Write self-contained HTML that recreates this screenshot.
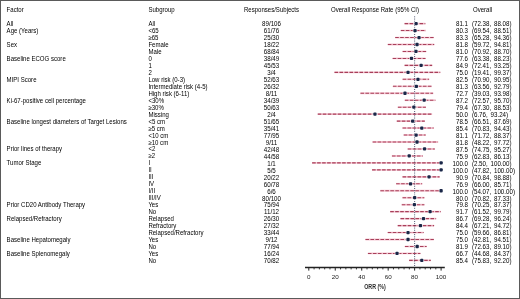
<!DOCTYPE html>
<html><head><meta charset="utf-8"><style>
*{margin:0;padding:0;box-sizing:border-box}
html,body{width:520px;height:299px;background:#fff;overflow:hidden}
#c{position:relative;width:520px;height:299px;background:#fff;font-family:"Liberation Sans",sans-serif;font-size:6.05px;color:#000;line-height:7px}
.t,.r,.m{transform:scaleY(1.08);transform-origin:50% 1.2px;letter-spacing:0px}
.n{font-size:6.2px;transform:scaleY(1.08);letter-spacing:0}
.t{position:absolute;white-space:nowrap}
#c{will-change:transform}
.r{position:absolute;white-space:nowrap;text-align:right}
.m{position:absolute;white-space:nowrap;text-align:center}
.b{position:absolute;background:#5a5a5a}
svg{position:absolute;left:0;top:0}
</style></head><body><div id="c">

<div class="b" style="left:0;top:0;width:520px;height:1px"></div>
<div class="b" style="left:0;top:0;width:1px;height:299px"></div>
<div class="b" style="right:0;top:0;width:1px;height:299px"></div>
<div class="b" style="left:0;bottom:0;width:520px;height:1px"></div>
<div class="t" style="left:6.6px;top:7.1px">Factor</div>
<div class="t" style="left:148.4px;top:7.1px">Subgroup</div>
<div class="m" style="left:231.5px;width:80px;top:7.1px">Responses/Subjects</div>
<div class="m" style="left:315px;width:120px;top:7.1px">Overall Response Rate (95% CI)</div>
<div class="m" style="left:452.6px;width:60px;top:7.1px">Overall</div>
<div class="t" style="left:6.6px;top:21px">All</div>
<div class="t" style="left:148.4px;top:21px">All</div>
<div class="m n" style="left:241.5px;width:60px;top:20px">89/106</div>
<div class="r n" style="left:428px;width:40px;top:20px">81.1</div>
<div class="t n" style="left:471.9px;top:20px;word-spacing:1.1px">(72.38, 88.08)</div>
<div class="t" style="left:6.6px;top:28px">Age (Years)</div>
<div class="t" style="left:148.4px;top:28px">&lt;65</div>
<div class="m n" style="left:241.5px;width:60px;top:27px">61/76</div>
<div class="r n" style="left:428px;width:40px;top:27px">80.3</div>
<div class="t n" style="left:471.9px;top:27px;word-spacing:1.1px">(69.54, 88.51)</div>
<div class="t" style="left:148.4px;top:35px">&ge;65</div>
<div class="m n" style="left:241.5px;width:60px;top:34px">25/30</div>
<div class="r n" style="left:428px;width:40px;top:34px">83.3</div>
<div class="t n" style="left:471.9px;top:34px;word-spacing:1.1px">(65.28, 94.36)</div>
<div class="t" style="left:6.6px;top:42px">Sex</div>
<div class="t" style="left:148.4px;top:42px">Female</div>
<div class="m n" style="left:241.5px;width:60px;top:41px">18/22</div>
<div class="r n" style="left:428px;width:40px;top:41px">81.8</div>
<div class="t n" style="left:471.9px;top:41px;word-spacing:1.1px">(59.72, 94.81)</div>
<div class="t" style="left:148.4px;top:49px">Male</div>
<div class="m n" style="left:241.5px;width:60px;top:48px">68/84</div>
<div class="r n" style="left:428px;width:40px;top:48px">81.0</div>
<div class="t n" style="left:471.9px;top:48px;word-spacing:1.1px">(70.92, 88.70)</div>
<div class="t" style="left:6.6px;top:56px">Baseline ECOG score</div>
<div class="t" style="left:148.4px;top:56px">0</div>
<div class="m n" style="left:241.5px;width:60px;top:55px">38/49</div>
<div class="r n" style="left:428px;width:40px;top:55px">77.6</div>
<div class="t n" style="left:471.9px;top:55px;word-spacing:1.1px">(63.38, 88.23)</div>
<div class="t" style="left:148.4px;top:63px">1</div>
<div class="m n" style="left:241.5px;width:60px;top:62px">45/53</div>
<div class="r n" style="left:428px;width:40px;top:62px">84.9</div>
<div class="t n" style="left:471.9px;top:62px;word-spacing:1.1px">(72.41, 93.25)</div>
<div class="t" style="left:148.4px;top:70px">2</div>
<div class="m n" style="left:241.5px;width:60px;top:69px">3/4</div>
<div class="r n" style="left:428px;width:40px;top:69px">75.0</div>
<div class="t n" style="left:471.9px;top:69px;word-spacing:1.1px">(19.41, 99.37)</div>
<div class="t" style="left:6.6px;top:77px">MIPI Score</div>
<div class="t" style="left:148.4px;top:77px">Low risk (0-3)</div>
<div class="m n" style="left:241.5px;width:60px;top:76px">52/63</div>
<div class="r n" style="left:428px;width:40px;top:76px">82.5</div>
<div class="t n" style="left:471.9px;top:76px;word-spacing:1.1px">(70.90, 90.95)</div>
<div class="t" style="left:148.4px;top:84px">Intermediate risk (4-5)</div>
<div class="m n" style="left:241.5px;width:60px;top:83px">26/32</div>
<div class="r n" style="left:428px;width:40px;top:83px">81.3</div>
<div class="t n" style="left:471.9px;top:83px;word-spacing:1.1px">(63.56, 92.79)</div>
<div class="t" style="left:148.4px;top:91px">High risk (6-11)</div>
<div class="m n" style="left:241.5px;width:60px;top:90px">8/11</div>
<div class="r n" style="left:428px;width:40px;top:90px">72.7</div>
<div class="t n" style="left:471.9px;top:90px;word-spacing:1.1px">(39.03, 93.98)</div>
<div class="t" style="left:6.6px;top:98px">Ki-67-positive cell percentage</div>
<div class="t" style="left:148.4px;top:98px">&lt;30%</div>
<div class="m n" style="left:241.5px;width:60px;top:97px">34/39</div>
<div class="r n" style="left:428px;width:40px;top:97px">87.2</div>
<div class="t n" style="left:471.9px;top:97px;word-spacing:1.1px">(72.57, 95.70)</div>
<div class="t" style="left:148.4px;top:105px">&ge;30%</div>
<div class="m n" style="left:241.5px;width:60px;top:104px">50/63</div>
<div class="r n" style="left:428px;width:40px;top:104px">79.4</div>
<div class="t n" style="left:471.9px;top:104px;word-spacing:1.1px">(67.30, 88.53)</div>
<div class="t" style="left:148.4px;top:112px">Missing</div>
<div class="m n" style="left:241.5px;width:60px;top:111px">2/4</div>
<div class="r n" style="left:428px;width:40px;top:111px">50.0</div>
<div class="t n" style="left:471.9px;top:111px;word-spacing:1.1px">(6.76, 93.24)</div>
<div class="t" style="left:6.6px;top:119px">Baseline longest diameters of Target Lesions</div>
<div class="t" style="left:148.4px;top:119px">&lt;5 cm</div>
<div class="m n" style="left:241.5px;width:60px;top:118px">51/65</div>
<div class="r n" style="left:428px;width:40px;top:118px">78.5</div>
<div class="t n" style="left:471.9px;top:118px;word-spacing:1.1px">(66.51, 87.69)</div>
<div class="t" style="left:148.4px;top:126px">&ge;5 cm</div>
<div class="m n" style="left:241.5px;width:60px;top:125px">35/41</div>
<div class="r n" style="left:428px;width:40px;top:125px">85.4</div>
<div class="t n" style="left:471.9px;top:125px;word-spacing:1.1px">(70.83, 94.43)</div>
<div class="t" style="left:148.4px;top:133px">&lt;10 cm</div>
<div class="m n" style="left:241.5px;width:60px;top:132px">77/95</div>
<div class="r n" style="left:428px;width:40px;top:132px">81.1</div>
<div class="t n" style="left:471.9px;top:132px;word-spacing:1.1px">(71.72, 88.37)</div>
<div class="t" style="left:148.4px;top:140px">&ge;10 cm</div>
<div class="m n" style="left:241.5px;width:60px;top:139px">9/11</div>
<div class="r n" style="left:428px;width:40px;top:139px">81.8</div>
<div class="t n" style="left:471.9px;top:139px;word-spacing:1.1px">(48.22, 97.72)</div>
<div class="t" style="left:6.6px;top:146px">Prior lines of therapy</div>
<div class="t" style="left:148.4px;top:146px">&lt;2</div>
<div class="m n" style="left:241.5px;width:60px;top:146px">42/48</div>
<div class="r n" style="left:428px;width:40px;top:146px">87.5</div>
<div class="t n" style="left:471.9px;top:146px;word-spacing:1.1px">(74.75, 95.27)</div>
<div class="t" style="left:148.4px;top:153px">&ge;2</div>
<div class="m n" style="left:241.5px;width:60px;top:153px">44/58</div>
<div class="r n" style="left:428px;width:40px;top:153px">75.9</div>
<div class="t n" style="left:471.9px;top:153px;word-spacing:1.1px">(62.83, 86.13)</div>
<div class="t" style="left:6.6px;top:160px">Tumor Stage</div>
<div class="t" style="left:148.4px;top:160px">I</div>
<div class="m n" style="left:241.5px;width:60px;top:160px">1/1</div>
<div class="r n" style="left:428px;width:40px;top:160px">100.0</div>
<div class="t n" style="left:471.9px;top:160px;word-spacing:1.1px">(2.50, 100.00)</div>
<div class="t" style="left:148.4px;top:167px">II</div>
<div class="m n" style="left:241.5px;width:60px;top:167px">5/5</div>
<div class="r n" style="left:428px;width:40px;top:167px">100.0</div>
<div class="t n" style="left:471.9px;top:167px;word-spacing:1.1px">(47.82, 100.00)</div>
<div class="t" style="left:148.4px;top:174px">III</div>
<div class="m n" style="left:241.5px;width:60px;top:174px">20/22</div>
<div class="r n" style="left:428px;width:40px;top:174px">90.9</div>
<div class="t n" style="left:471.9px;top:174px;word-spacing:1.1px">(70.84, 98.88)</div>
<div class="t" style="left:148.4px;top:181px">IV</div>
<div class="m n" style="left:241.5px;width:60px;top:181px">60/78</div>
<div class="r n" style="left:428px;width:40px;top:181px">76.9</div>
<div class="t n" style="left:471.9px;top:181px;word-spacing:1.1px">(66.00, 85.71)</div>
<div class="t" style="left:148.4px;top:188px">I/II</div>
<div class="m n" style="left:241.5px;width:60px;top:188px">6/6</div>
<div class="r n" style="left:428px;width:40px;top:188px">100.0</div>
<div class="t n" style="left:471.9px;top:188px;word-spacing:1.1px">(54.07, 100.00)</div>
<div class="t" style="left:148.4px;top:195px">III/IV</div>
<div class="m n" style="left:241.5px;width:60px;top:195px">80/100</div>
<div class="r n" style="left:428px;width:40px;top:195px">80.0</div>
<div class="t n" style="left:471.9px;top:195px;word-spacing:1.1px">(70.82, 87.33)</div>
<div class="t" style="left:6.6px;top:202px">Prior CD20 Antibody Therapy</div>
<div class="t" style="left:148.4px;top:202px">Yes</div>
<div class="m n" style="left:241.5px;width:60px;top:201px">75/94</div>
<div class="r n" style="left:428px;width:40px;top:201px">79.8</div>
<div class="t n" style="left:471.9px;top:201px;word-spacing:1.1px">(70.25, 87.37)</div>
<div class="t" style="left:148.4px;top:209px">No</div>
<div class="m n" style="left:241.5px;width:60px;top:208px">11/12</div>
<div class="r n" style="left:428px;width:40px;top:208px">91.7</div>
<div class="t n" style="left:471.9px;top:208px;word-spacing:1.1px">(61.52, 99.79)</div>
<div class="t" style="left:6.6px;top:216px">Relapsed/Refractory</div>
<div class="t" style="left:148.4px;top:216px">Relapsed</div>
<div class="m n" style="left:241.5px;width:60px;top:215px">26/30</div>
<div class="r n" style="left:428px;width:40px;top:215px">86.7</div>
<div class="t n" style="left:471.9px;top:215px;word-spacing:1.1px">(69.28, 96.24)</div>
<div class="t" style="left:148.4px;top:223px">Refractory</div>
<div class="m n" style="left:241.5px;width:60px;top:222px">27/32</div>
<div class="r n" style="left:428px;width:40px;top:222px">84.4</div>
<div class="t n" style="left:471.9px;top:222px;word-spacing:1.1px">(67.21, 94.72)</div>
<div class="t" style="left:148.4px;top:230px">Relapsed/Refractory</div>
<div class="m n" style="left:241.5px;width:60px;top:229px">33/44</div>
<div class="r n" style="left:428px;width:40px;top:229px">75.0</div>
<div class="t n" style="left:471.9px;top:229px;word-spacing:1.1px">(59.66, 86.81)</div>
<div class="t" style="left:6.6px;top:237px">Baseline Hepatomegaly</div>
<div class="t" style="left:148.4px;top:237px">Yes</div>
<div class="m n" style="left:241.5px;width:60px;top:236px">9/12</div>
<div class="r n" style="left:428px;width:40px;top:236px">75.0</div>
<div class="t n" style="left:471.9px;top:236px;word-spacing:1.1px">(42.81, 94.51)</div>
<div class="t" style="left:148.4px;top:244px">No</div>
<div class="m n" style="left:241.5px;width:60px;top:243px">77/94</div>
<div class="r n" style="left:428px;width:40px;top:243px">81.9</div>
<div class="t n" style="left:471.9px;top:243px;word-spacing:1.1px">(72.63, 89.10)</div>
<div class="t" style="left:6.6px;top:251px">Baseline Splenomegaly</div>
<div class="t" style="left:148.4px;top:251px">Yes</div>
<div class="m n" style="left:241.5px;width:60px;top:250px">16/24</div>
<div class="r n" style="left:428px;width:40px;top:250px">66.7</div>
<div class="t n" style="left:471.9px;top:250px;word-spacing:1.1px">(44.68, 84.37)</div>
<div class="t" style="left:148.4px;top:258px">No</div>
<div class="m n" style="left:241.5px;width:60px;top:257px">70/82</div>
<div class="r n" style="left:428px;width:40px;top:257px">85.4</div>
<div class="t n" style="left:471.9px;top:257px;word-spacing:1.1px">(75.83, 92.20)</div>
<svg width="520" height="299" viewBox="0 0 520 299"><line x1="404.56" x2="425.33" y1="23.60" y2="23.60" stroke="#f5c8d3" stroke-width="1.8" stroke-dasharray="none"/><line x1="404.56" x2="425.33" y1="23.60" y2="23.60" stroke="#a83f5a" stroke-width="1.1" stroke-dasharray="3.6 1.4"/><line x1="400.80" x2="425.90" y1="30.57" y2="30.57" stroke="#f5c8d3" stroke-width="1.8" stroke-dasharray="none"/><line x1="400.80" x2="425.90" y1="30.57" y2="30.57" stroke="#a83f5a" stroke-width="1.1" stroke-dasharray="3.6 1.4"/><line x1="395.17" x2="433.64" y1="37.53" y2="37.53" stroke="#f5c8d3" stroke-width="1.8" stroke-dasharray="none"/><line x1="395.17" x2="433.64" y1="37.53" y2="37.53" stroke="#a83f5a" stroke-width="1.1" stroke-dasharray="3.6 1.4"/><line x1="387.81" x2="434.23" y1="44.50" y2="44.50" stroke="#f5c8d3" stroke-width="1.8" stroke-dasharray="none"/><line x1="387.81" x2="434.23" y1="44.50" y2="44.50" stroke="#a83f5a" stroke-width="1.1" stroke-dasharray="3.6 1.4"/><line x1="402.63" x2="426.15" y1="51.46" y2="51.46" stroke="#f5c8d3" stroke-width="1.8" stroke-dasharray="none"/><line x1="402.63" x2="426.15" y1="51.46" y2="51.46" stroke="#a83f5a" stroke-width="1.1" stroke-dasharray="3.6 1.4"/><line x1="392.65" x2="425.53" y1="58.43" y2="58.43" stroke="#f5c8d3" stroke-width="1.8" stroke-dasharray="none"/><line x1="392.65" x2="425.53" y1="58.43" y2="58.43" stroke="#a83f5a" stroke-width="1.1" stroke-dasharray="3.6 1.4"/><line x1="404.60" x2="432.17" y1="65.39" y2="65.39" stroke="#f5c8d3" stroke-width="1.8" stroke-dasharray="none"/><line x1="404.60" x2="432.17" y1="65.39" y2="65.39" stroke="#a83f5a" stroke-width="1.1" stroke-dasharray="3.6 1.4"/><line x1="334.48" x2="440.27" y1="72.35" y2="72.35" stroke="#f5c8d3" stroke-width="1.8" stroke-dasharray="none"/><line x1="334.48" x2="440.27" y1="72.35" y2="72.35" stroke="#a83f5a" stroke-width="1.1" stroke-dasharray="3.6 1.4"/><line x1="402.60" x2="429.13" y1="79.32" y2="79.32" stroke="#f5c8d3" stroke-width="1.8" stroke-dasharray="none"/><line x1="402.60" x2="429.13" y1="79.32" y2="79.32" stroke="#a83f5a" stroke-width="1.1" stroke-dasharray="3.6 1.4"/><line x1="392.89" x2="431.56" y1="86.28" y2="86.28" stroke="#f5c8d3" stroke-width="1.8" stroke-dasharray="none"/><line x1="392.89" x2="431.56" y1="86.28" y2="86.28" stroke="#a83f5a" stroke-width="1.1" stroke-dasharray="3.6 1.4"/><line x1="360.44" x2="433.14" y1="93.25" y2="93.25" stroke="#f5c8d3" stroke-width="1.8" stroke-dasharray="none"/><line x1="360.44" x2="433.14" y1="93.25" y2="93.25" stroke="#a83f5a" stroke-width="1.1" stroke-dasharray="3.6 1.4"/><line x1="404.81" x2="435.41" y1="100.22" y2="100.22" stroke="#f5c8d3" stroke-width="1.8" stroke-dasharray="none"/><line x1="404.81" x2="435.41" y1="100.22" y2="100.22" stroke="#a83f5a" stroke-width="1.1" stroke-dasharray="3.6 1.4"/><line x1="397.84" x2="425.93" y1="107.18" y2="107.18" stroke="#f5c8d3" stroke-width="1.8" stroke-dasharray="none"/><line x1="397.84" x2="425.93" y1="107.18" y2="107.18" stroke="#a83f5a" stroke-width="1.1" stroke-dasharray="3.6 1.4"/><line x1="317.74" x2="432.16" y1="114.15" y2="114.15" stroke="#f5c8d3" stroke-width="1.8" stroke-dasharray="none"/><line x1="317.74" x2="432.16" y1="114.15" y2="114.15" stroke="#a83f5a" stroke-width="1.1" stroke-dasharray="3.6 1.4"/><line x1="396.79" x2="424.81" y1="121.11" y2="121.11" stroke="#f5c8d3" stroke-width="1.8" stroke-dasharray="none"/><line x1="396.79" x2="424.81" y1="121.11" y2="121.11" stroke="#a83f5a" stroke-width="1.1" stroke-dasharray="3.6 1.4"/><line x1="402.51" x2="433.73" y1="128.07" y2="128.07" stroke="#f5c8d3" stroke-width="1.8" stroke-dasharray="none"/><line x1="402.51" x2="433.73" y1="128.07" y2="128.07" stroke="#a83f5a" stroke-width="1.1" stroke-dasharray="3.6 1.4"/><line x1="403.69" x2="425.71" y1="135.04" y2="135.04" stroke="#f5c8d3" stroke-width="1.8" stroke-dasharray="none"/><line x1="403.69" x2="425.71" y1="135.04" y2="135.04" stroke="#a83f5a" stroke-width="1.1" stroke-dasharray="3.6 1.4"/><line x1="372.60" x2="438.08" y1="142.00" y2="142.00" stroke="#f5c8d3" stroke-width="1.8" stroke-dasharray="none"/><line x1="372.60" x2="438.08" y1="142.00" y2="142.00" stroke="#a83f5a" stroke-width="1.1" stroke-dasharray="3.6 1.4"/><line x1="407.69" x2="434.84" y1="148.97" y2="148.97" stroke="#f5c8d3" stroke-width="1.8" stroke-dasharray="none"/><line x1="407.69" x2="434.84" y1="148.97" y2="148.97" stroke="#a83f5a" stroke-width="1.1" stroke-dasharray="3.6 1.4"/><line x1="391.92" x2="422.75" y1="155.94" y2="155.94" stroke="#f5c8d3" stroke-width="1.8" stroke-dasharray="none"/><line x1="391.92" x2="422.75" y1="155.94" y2="155.94" stroke="#a83f5a" stroke-width="1.1" stroke-dasharray="3.6 1.4"/><line x1="312.11" x2="441.10" y1="162.90" y2="162.90" stroke="#f5c8d3" stroke-width="1.8" stroke-dasharray="none"/><line x1="312.11" x2="441.10" y1="162.90" y2="162.90" stroke="#a83f5a" stroke-width="1.1" stroke-dasharray="3.6 1.4"/><line x1="372.07" x2="441.10" y1="169.86" y2="169.86" stroke="#f5c8d3" stroke-width="1.8" stroke-dasharray="none"/><line x1="372.07" x2="441.10" y1="169.86" y2="169.86" stroke="#a83f5a" stroke-width="1.1" stroke-dasharray="3.6 1.4"/><line x1="402.52" x2="439.62" y1="176.83" y2="176.83" stroke="#f5c8d3" stroke-width="1.8" stroke-dasharray="none"/><line x1="402.52" x2="439.62" y1="176.83" y2="176.83" stroke="#a83f5a" stroke-width="1.1" stroke-dasharray="3.6 1.4"/><line x1="396.12" x2="422.19" y1="183.79" y2="183.79" stroke="#f5c8d3" stroke-width="1.8" stroke-dasharray="none"/><line x1="396.12" x2="422.19" y1="183.79" y2="183.79" stroke="#a83f5a" stroke-width="1.1" stroke-dasharray="3.6 1.4"/><line x1="380.33" x2="441.10" y1="190.76" y2="190.76" stroke="#f5c8d3" stroke-width="1.8" stroke-dasharray="none"/><line x1="380.33" x2="441.10" y1="190.76" y2="190.76" stroke="#a83f5a" stroke-width="1.1" stroke-dasharray="3.6 1.4"/><line x1="402.49" x2="424.34" y1="197.72" y2="197.72" stroke="#f5c8d3" stroke-width="1.8" stroke-dasharray="none"/><line x1="402.49" x2="424.34" y1="197.72" y2="197.72" stroke="#a83f5a" stroke-width="1.1" stroke-dasharray="3.6 1.4"/><line x1="401.74" x2="424.39" y1="204.69" y2="204.69" stroke="#f5c8d3" stroke-width="1.8" stroke-dasharray="none"/><line x1="401.74" x2="424.39" y1="204.69" y2="204.69" stroke="#a83f5a" stroke-width="1.1" stroke-dasharray="3.6 1.4"/><line x1="390.19" x2="440.82" y1="211.66" y2="211.66" stroke="#f5c8d3" stroke-width="1.8" stroke-dasharray="none"/><line x1="390.19" x2="440.82" y1="211.66" y2="211.66" stroke="#a83f5a" stroke-width="1.1" stroke-dasharray="3.6 1.4"/><line x1="400.46" x2="436.13" y1="218.62" y2="218.62" stroke="#f5c8d3" stroke-width="1.8" stroke-dasharray="none"/><line x1="400.46" x2="436.13" y1="218.62" y2="218.62" stroke="#a83f5a" stroke-width="1.1" stroke-dasharray="3.6 1.4"/><line x1="397.72" x2="434.11" y1="225.58" y2="225.58" stroke="#f5c8d3" stroke-width="1.8" stroke-dasharray="none"/><line x1="397.72" x2="434.11" y1="225.58" y2="225.58" stroke="#a83f5a" stroke-width="1.1" stroke-dasharray="3.6 1.4"/><line x1="387.73" x2="423.65" y1="232.55" y2="232.55" stroke="#f5c8d3" stroke-width="1.8" stroke-dasharray="none"/><line x1="387.73" x2="423.65" y1="232.55" y2="232.55" stroke="#a83f5a" stroke-width="1.1" stroke-dasharray="3.6 1.4"/><line x1="365.44" x2="433.84" y1="239.51" y2="239.51" stroke="#f5c8d3" stroke-width="1.8" stroke-dasharray="none"/><line x1="365.44" x2="433.84" y1="239.51" y2="239.51" stroke="#a83f5a" stroke-width="1.1" stroke-dasharray="3.6 1.4"/><line x1="404.89" x2="426.68" y1="246.48" y2="246.48" stroke="#f5c8d3" stroke-width="1.8" stroke-dasharray="none"/><line x1="404.89" x2="426.68" y1="246.48" y2="246.48" stroke="#a83f5a" stroke-width="1.1" stroke-dasharray="3.6 1.4"/><line x1="367.91" x2="420.42" y1="253.44" y2="253.44" stroke="#f5c8d3" stroke-width="1.8" stroke-dasharray="none"/><line x1="367.91" x2="420.42" y1="253.44" y2="253.44" stroke="#a83f5a" stroke-width="1.1" stroke-dasharray="3.6 1.4"/><line x1="409.12" x2="430.78" y1="260.41" y2="260.41" stroke="#f5c8d3" stroke-width="1.8" stroke-dasharray="none"/><line x1="409.12" x2="430.78" y1="260.41" y2="260.41" stroke="#a83f5a" stroke-width="1.1" stroke-dasharray="3.6 1.4"/><line x1="414.64" x2="414.64" y1="16.4" y2="267.5" stroke="#2a3050" stroke-width="0.9" stroke-dasharray="0.9 1.3"/><circle cx="416.10" cy="23.60" r="2.4" fill="#fff" fill-opacity="0.8"/><rect x="414.45" y="21.95" width="3.3" height="3.3" rx="1.0" fill="#1a2748"/><circle cx="415.04" cy="30.57" r="2.4" fill="#fff" fill-opacity="0.8"/><rect x="413.39" y="28.92" width="3.3" height="3.3" rx="1.0" fill="#1a2748"/><circle cx="419.01" cy="37.53" r="2.4" fill="#fff" fill-opacity="0.8"/><rect x="417.36" y="35.88" width="3.3" height="3.3" rx="1.0" fill="#1a2748"/><circle cx="417.02" cy="44.50" r="2.4" fill="#fff" fill-opacity="0.8"/><rect x="415.37" y="42.85" width="3.3" height="3.3" rx="1.0" fill="#1a2748"/><circle cx="415.96" cy="51.46" r="2.4" fill="#fff" fill-opacity="0.8"/><rect x="414.31" y="49.81" width="3.3" height="3.3" rx="1.0" fill="#1a2748"/><circle cx="411.46" cy="58.43" r="2.4" fill="#fff" fill-opacity="0.8"/><rect x="409.81" y="56.78" width="3.3" height="3.3" rx="1.0" fill="#1a2748"/><circle cx="421.12" cy="65.39" r="2.4" fill="#fff" fill-opacity="0.8"/><rect x="419.47" y="63.74" width="3.3" height="3.3" rx="1.0" fill="#1a2748"/><circle cx="408.02" cy="72.35" r="2.4" fill="#fff" fill-opacity="0.8"/><rect x="406.38" y="70.70" width="3.3" height="3.3" rx="1.0" fill="#1a2748"/><circle cx="417.95" cy="79.32" r="2.4" fill="#fff" fill-opacity="0.8"/><rect x="416.30" y="77.67" width="3.3" height="3.3" rx="1.0" fill="#1a2748"/><circle cx="416.36" cy="86.28" r="2.4" fill="#fff" fill-opacity="0.8"/><rect x="414.71" y="84.63" width="3.3" height="3.3" rx="1.0" fill="#1a2748"/><circle cx="404.98" cy="93.25" r="2.4" fill="#fff" fill-opacity="0.8"/><rect x="403.33" y="91.60" width="3.3" height="3.3" rx="1.0" fill="#1a2748"/><circle cx="424.17" cy="100.22" r="2.4" fill="#fff" fill-opacity="0.8"/><rect x="422.52" y="98.56" width="3.3" height="3.3" rx="1.0" fill="#1a2748"/><circle cx="413.85" cy="107.18" r="2.4" fill="#fff" fill-opacity="0.8"/><rect x="412.20" y="105.53" width="3.3" height="3.3" rx="1.0" fill="#1a2748"/><circle cx="374.95" cy="114.15" r="2.4" fill="#fff" fill-opacity="0.8"/><rect x="373.30" y="112.50" width="3.3" height="3.3" rx="1.0" fill="#1a2748"/><circle cx="412.66" cy="121.11" r="2.4" fill="#fff" fill-opacity="0.8"/><rect x="411.01" y="119.46" width="3.3" height="3.3" rx="1.0" fill="#1a2748"/><circle cx="421.78" cy="128.07" r="2.4" fill="#fff" fill-opacity="0.8"/><rect x="420.13" y="126.42" width="3.3" height="3.3" rx="1.0" fill="#1a2748"/><circle cx="416.10" cy="135.04" r="2.4" fill="#fff" fill-opacity="0.8"/><rect x="414.45" y="133.39" width="3.3" height="3.3" rx="1.0" fill="#1a2748"/><circle cx="417.02" cy="142.00" r="2.4" fill="#fff" fill-opacity="0.8"/><rect x="415.37" y="140.35" width="3.3" height="3.3" rx="1.0" fill="#1a2748"/><circle cx="424.56" cy="148.97" r="2.4" fill="#fff" fill-opacity="0.8"/><rect x="422.91" y="147.32" width="3.3" height="3.3" rx="1.0" fill="#1a2748"/><circle cx="409.22" cy="155.94" r="2.4" fill="#fff" fill-opacity="0.8"/><rect x="407.57" y="154.28" width="3.3" height="3.3" rx="1.0" fill="#1a2748"/><circle cx="441.10" cy="162.90" r="2.4" fill="#fff" fill-opacity="0.8"/><rect x="439.45" y="161.25" width="3.3" height="3.3" rx="1.0" fill="#1a2748"/><circle cx="441.10" cy="169.86" r="2.4" fill="#fff" fill-opacity="0.8"/><rect x="439.45" y="168.21" width="3.3" height="3.3" rx="1.0" fill="#1a2748"/><circle cx="429.06" cy="176.83" r="2.4" fill="#fff" fill-opacity="0.8"/><rect x="427.41" y="175.18" width="3.3" height="3.3" rx="1.0" fill="#1a2748"/><circle cx="410.54" cy="183.79" r="2.4" fill="#fff" fill-opacity="0.8"/><rect x="408.89" y="182.14" width="3.3" height="3.3" rx="1.0" fill="#1a2748"/><circle cx="441.10" cy="190.76" r="2.4" fill="#fff" fill-opacity="0.8"/><rect x="439.45" y="189.11" width="3.3" height="3.3" rx="1.0" fill="#1a2748"/><circle cx="414.64" cy="197.72" r="2.4" fill="#fff" fill-opacity="0.8"/><rect x="412.99" y="196.07" width="3.3" height="3.3" rx="1.0" fill="#1a2748"/><circle cx="414.38" cy="204.69" r="2.4" fill="#fff" fill-opacity="0.8"/><rect x="412.73" y="203.04" width="3.3" height="3.3" rx="1.0" fill="#1a2748"/><circle cx="430.12" cy="211.66" r="2.4" fill="#fff" fill-opacity="0.8"/><rect x="428.47" y="210.00" width="3.3" height="3.3" rx="1.0" fill="#1a2748"/><circle cx="423.50" cy="218.62" r="2.4" fill="#fff" fill-opacity="0.8"/><rect x="421.85" y="216.97" width="3.3" height="3.3" rx="1.0" fill="#1a2748"/><circle cx="420.46" cy="225.58" r="2.4" fill="#fff" fill-opacity="0.8"/><rect x="418.81" y="223.93" width="3.3" height="3.3" rx="1.0" fill="#1a2748"/><circle cx="408.02" cy="232.55" r="2.4" fill="#fff" fill-opacity="0.8"/><rect x="406.38" y="230.90" width="3.3" height="3.3" rx="1.0" fill="#1a2748"/><circle cx="408.02" cy="239.51" r="2.4" fill="#fff" fill-opacity="0.8"/><rect x="406.38" y="237.86" width="3.3" height="3.3" rx="1.0" fill="#1a2748"/><circle cx="417.15" cy="246.48" r="2.4" fill="#fff" fill-opacity="0.8"/><rect x="415.50" y="244.83" width="3.3" height="3.3" rx="1.0" fill="#1a2748"/><circle cx="397.04" cy="253.44" r="2.4" fill="#fff" fill-opacity="0.8"/><rect x="395.39" y="251.79" width="3.3" height="3.3" rx="1.0" fill="#1a2748"/><circle cx="421.78" cy="260.41" r="2.4" fill="#fff" fill-opacity="0.8"/><rect x="420.13" y="258.76" width="3.3" height="3.3" rx="1.0" fill="#1a2748"/><line x1="305" x2="444.8" y1="267.5" y2="267.5" stroke="#222" stroke-width="1.3"/><line x1="308.80" x2="308.80" y1="267.5" y2="270.6" stroke="#222" stroke-width="1.0"/><line x1="335.26" x2="335.26" y1="267.5" y2="270.6" stroke="#222" stroke-width="1.0"/><line x1="361.72" x2="361.72" y1="267.5" y2="270.6" stroke="#222" stroke-width="1.0"/><line x1="388.18" x2="388.18" y1="267.5" y2="270.6" stroke="#222" stroke-width="1.0"/><line x1="414.64" x2="414.64" y1="267.5" y2="270.6" stroke="#222" stroke-width="1.0"/><line x1="441.10" x2="441.10" y1="267.5" y2="270.6" stroke="#222" stroke-width="1.0"/><line x1="314.09" x2="314.09" y1="267.5" y2="269.4" stroke="#222" stroke-width="0.9"/><line x1="319.38" x2="319.38" y1="267.5" y2="269.4" stroke="#222" stroke-width="0.9"/><line x1="324.68" x2="324.68" y1="267.5" y2="269.4" stroke="#222" stroke-width="0.9"/><line x1="329.97" x2="329.97" y1="267.5" y2="269.4" stroke="#222" stroke-width="0.9"/><line x1="340.55" x2="340.55" y1="267.5" y2="269.4" stroke="#222" stroke-width="0.9"/><line x1="345.84" x2="345.84" y1="267.5" y2="269.4" stroke="#222" stroke-width="0.9"/><line x1="351.14" x2="351.14" y1="267.5" y2="269.4" stroke="#222" stroke-width="0.9"/><line x1="356.43" x2="356.43" y1="267.5" y2="269.4" stroke="#222" stroke-width="0.9"/><line x1="367.01" x2="367.01" y1="267.5" y2="269.4" stroke="#222" stroke-width="0.9"/><line x1="372.30" x2="372.30" y1="267.5" y2="269.4" stroke="#222" stroke-width="0.9"/><line x1="377.60" x2="377.60" y1="267.5" y2="269.4" stroke="#222" stroke-width="0.9"/><line x1="382.89" x2="382.89" y1="267.5" y2="269.4" stroke="#222" stroke-width="0.9"/><line x1="393.47" x2="393.47" y1="267.5" y2="269.4" stroke="#222" stroke-width="0.9"/><line x1="398.76" x2="398.76" y1="267.5" y2="269.4" stroke="#222" stroke-width="0.9"/><line x1="404.06" x2="404.06" y1="267.5" y2="269.4" stroke="#222" stroke-width="0.9"/><line x1="409.35" x2="409.35" y1="267.5" y2="269.4" stroke="#222" stroke-width="0.9"/><line x1="419.93" x2="419.93" y1="267.5" y2="269.4" stroke="#222" stroke-width="0.9"/><line x1="425.22" x2="425.22" y1="267.5" y2="269.4" stroke="#222" stroke-width="0.9"/><line x1="430.52" x2="430.52" y1="267.5" y2="269.4" stroke="#222" stroke-width="0.9"/><line x1="435.81" x2="435.81" y1="267.5" y2="269.4" stroke="#222" stroke-width="0.9"/></svg>
<div class="m" style="left:293.80px;width:30px;top:273.3px;font-size:6.3px;transform:scaleY(0.92);font-weight:normal;color:#1a1a1a">0</div>
<div class="m" style="left:320.26px;width:30px;top:273.3px;font-size:6.3px;transform:scaleY(0.92);font-weight:normal;color:#1a1a1a">20</div>
<div class="m" style="left:346.72px;width:30px;top:273.3px;font-size:6.3px;transform:scaleY(0.92);font-weight:normal;color:#1a1a1a">40</div>
<div class="m" style="left:373.18px;width:30px;top:273.3px;font-size:6.3px;transform:scaleY(0.92);font-weight:normal;color:#1a1a1a">60</div>
<div class="m" style="left:399.64px;width:30px;top:273.3px;font-size:6.3px;transform:scaleY(0.92);font-weight:normal;color:#1a1a1a">80</div>
<div class="m" style="left:426.10px;width:30px;top:273.3px;font-size:6.3px;transform:scaleY(0.92);font-weight:normal;color:#1a1a1a">100</div>
<div class="m" style="left:344.95px;width:60px;top:284.0px;font-size:5.3px;transform:scaleY(1.24);transform-origin:50% 5.25px;font-weight:bold;color:#2a2a2a">ORR (%)</div>
</div></body></html>
